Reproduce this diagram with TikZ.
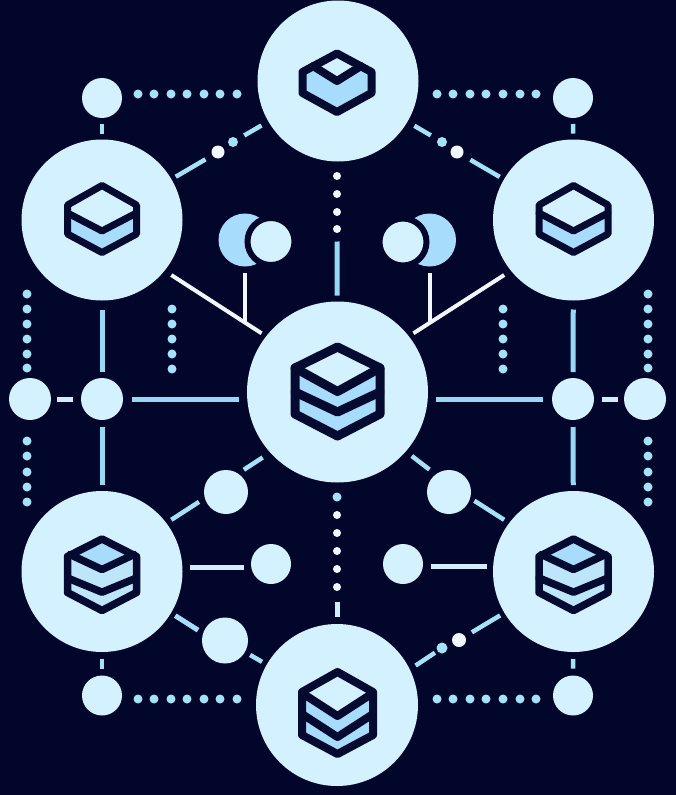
\documentclass[tikz,border=0pt]{standalone}
\usepackage{tikz}
\definecolor{navy}{HTML}{02062A}
\definecolor{ink}{HTML}{050A30}
\definecolor{pale}{HTML}{D3F1FE}
\definecolor{sky}{HTML}{A8DCFC}
\definecolor{skylo}{HTML}{BDE6FB}
\definecolor{beadc}{HTML}{A3E2F8}
\definecolor{wire}{HTML}{96D8F6}
\definecolor{snow}{HTML}{F2F7FE}
\tikzset{x=1pt,y=-1pt,
    hub/.style={circle,fill=pale,inner sep=0pt,outer sep=0pt,minimum size=161pt},
    core/.style={hub,minimum size=181pt},
    sat/.style={circle,fill=pale,inner sep=0pt,outer sep=0pt,minimum size=#1 pt},
    sat/.default=40,
    moonback/.style={circle,fill=sky,inner sep=0pt,outer sep=0pt,minimum size=53pt},
    moonfront/.style={circle,fill=pale,draw=navy,line width=6pt,inner sep=0pt,outer sep=0pt,minimum size=47pt},
    bead/.style={circle,fill=beadc,inner sep=0pt,outer sep=0pt,minimum size=9pt},
    pearl/.style={bead,fill=snow,minimum size=8pt},
    wirelink/.style={draw=wire,line width=5pt},
    glowlink/.style={draw=beadc,line width=4.5pt},
    whitelink/.style={draw=snow,line width=4pt},
    palelink/.style={draw=skylo!60!snow,line width=5pt},
    gap/.style 2 args={shorten <=#1pt,shorten >=#2pt},
    iconline/.style={draw=ink,line width=#1pt,line join=round,line cap=round},
    % cap: small light top on a tall blue side
    pics/boxcap/.style={code={
        \fill[sky] (0,-29.5) -- (35,-11) -- (35,10) -- (0,29) -- (-35,10) -- (-35,-11) -- cycle;
        \fill[pale] (0,-29.5) -- (24,-17) -- (0,-2) -- (-24,-17) -- cycle;
        \path[iconline=8] (0,-29.5) -- (34.5,-11) -- (34.5,10) -- (0,29) -- (-34.5,10) -- (-34.5,-11) -- cycle;
        \path[iconline=8] (-24,-17) -- (0,-2) -- (24,-17);
    }},
    % one layer under a light top
    pics/boxone/.style={code={
        \fill[sky] (0,-33.5) -- (34.5,-14) -- (34.5,15) -- (0,33.5) -- (-34.5,15) -- (-34.5,-14) -- cycle;
        \fill[pale] (0,-33.5) -- (34.5,-14) -- (34.5,-6) -- (0,12) -- (-34.5,-6) -- (-34.5,-14) -- cycle;
        \path[iconline=7] (0,-33.5) -- (34.5,-14) -- (34.5,15) -- (0,33.5) -- (-34.5,15) -- (-34.5,-14) -- cycle;
        \path[iconline=7] (-34.5,-6) -- (0,12) -- (34.5,-6);
    }},
    % three blue layers
    pics/boxtri/.style={code={
        \fill[skylo] (0,-35.5) -- (34.5,-18) -- (34.5,18) -- (0,36) -- (-34.5,18) -- (-34.5,-18) -- cycle;
        \fill[sky] (0,-35.5) -- (32,-20) -- (0,-5) -- (-32,-20) -- cycle;
        \path[iconline=7.5] (0,-35.5) -- (34.5,-18) -- (34.5,18) -- (0,36) -- (-34.5,18) -- (-34.5,-18) -- cycle;
        \path[iconline=7.5] (-32,-20) -- (0,-5) -- (32,-20);
        \path[iconline=7.5] (-34.5,3.5) -- (0,17.7) -- (34.5,3.5);
    }},
    % light top on two blue layers
    pics/boxpile/.style n args={9}{code={
        \fill[sky] (0,-#2) -- (#1,-#3) -- (#1,#4) -- (0,#2) -- (-#1,#4) -- (-#1,-#3) -- cycle;
        \fill[pale] (0,-#2) -- (#1,-#3) -- (0,#6) -- (-#1,-#3) -- cycle;
        \path[iconline=#9] (0,-#2) -- (#1,-#3) -- (#1,#4) -- (0,#2) -- (-#1,#4) -- (-#1,-#3) -- cycle;
        \path[iconline=#9] (-#1,-#5) -- (0,#6) -- (#1,-#5);
        \path[iconline=#9] (-#1,#7) -- (0,#8) -- (#1,#7);
    }}}
\begin{document}
\begin{tikzpicture}
\fill[navy] (0,0) rectangle (676,795);

\node[hub] (top) at (338,81) {};
\node[hub] (ul) at (102,220) {};
\node[hub] (ur) at (573.5,220) {};
\node[core] (mid) at (337.5,392) {};
\node[hub] (ll) at (102,571.5) {};
\node[hub] (lr) at (573.5,571.5) {};
\node[hub,minimum size=162pt] (bot) at (337,705) {};

\node[sat] (stl) at (102,98) {};
\node[sat] (str) at (573,98) {};
\node[sat] (sbl) at (102,695.5) {};
\node[sat] (sbr) at (573,695.5) {};
\node[sat=42] (ofl) at (30,399) {};
\node[sat=42] (hl) at (102,399) {};
\node[sat=42] (hr) at (573,399) {};
\node[sat=42] (ofr) at (645,399) {};
\node[sat=44] (lua) at (226,492) {};
\node[sat=40] (lub) at (271,564) {};
\node[sat=46] (luc) at (225,640.5) {};
\node[sat=44] (rua) at (449,492) {};
\node[sat=40] (rub) at (403,564) {};

\node[moonback] (moonl) at (245,240) {};
\node[moonfront] (facel) at (271,241.5) {};
\node[moonback] (moonr) at (429.5,240) {};
\node[moonfront] (facer) at (403,242) {};

\node[pearl,minimum size=13pt] (da1) at (218,152) {};
\node[bead,minimum size=10pt] (da2) at (233,142) {};
\node[bead,minimum size=10pt] (db1) at (442,142) {};
\node[pearl,minimum size=13pt] (db2) at (457,152) {};
\node[bead,minimum size=11pt] (dc1) at (442,648) {};
\node[pearl,minimum size=14pt] (dc2) at (459,640) {};

% dotted runs
\foreach \x [count=\i] in {138,154,171,187,204,220,237} {
    \node[bead] (dta\i) at (\x,94) {};
    \node[bead] (dba\i) at (\x,699) {};
}
\foreach \x [count=\i] in {437,453,470,486,503,520,536} {
    \node[bead] (dtb\i) at (\x,94) {};
    \node[bead] (dbb\i) at (\x,699) {};
}
\foreach \y [count=\i] in {294,309,324,339,354,368} {
    \node[bead] (vla\i) at (27,\y) {};
    \node[bead] (vra\i) at (648,\y) {};
}
\foreach \y [count=\i] in {441,456,472,487,502} {
    \node[bead] (vlb\i) at (27,\y) {};
    \node[bead] (vrb\i) at (648,\y) {};
}
\foreach \y [count=\i] in {309,324,339,354,369} {
    \node[bead] (inl\i) at (172,\y) {};
    \node[bead] (inr\i) at (503,\y) {};
}
\foreach \y [count=\i] in {176,194,212,229} \node[pearl] (nc\i) at (337,\y) {};
\foreach \y [count=\i] in {515,533,551,569,587} \node[pearl] (nd\i) at (337,\y) {};
\node[bead] (nd0) at (337,497) {};

\coordinate (forkl) at (245,322);
\coordinate (forkr) at (429.5,323);

\path
    (ul) edge [glowlink,gap={5}{8}] (da1)
    (da2) edge [glowlink,gap={8}{8}] (top)
    (top) edge [glowlink,gap={8}{8}] (db1)
    (db2) edge [glowlink,gap={9}{5}] (ur)
    (stl) edge [glowlink,gap={6}{6}] (ul)
    (str) edge [glowlink,gap={6}{6}] (ur)
    (ll) edge [glowlink,gap={7}{7}] (sbl)
    (lr) edge [glowlink,gap={7}{7}] (sbr)
    (ul) edge [wirelink,gap={9}{6}] (hl)
    (ur) edge [wirelink,gap={9}{6}] (hr)
    (hl) edge [wirelink,gap={7}{6}] (ll)
    (hr) edge [wirelink,gap={7}{6}] (lr)
    (ofl) edge [palelink,gap={6}{8}] (hl)
    (hr) edge [palelink,gap={8}{6}] (ofr)
    (hl.east) edge [wirelink,gap={9}{8}] (hl.east -| mid.west)
    (hr.west) edge [wirelink,gap={9}{8}] (hr.west -| mid.east)
    (nc4) edge [wirelink,gap={8.5}{6}] (mid)
    (nd5) edge [palelink,gap={11}{7}] (bot)
    (ul.-39) edge [whitelink,gap={8}{5.5}] (mid.142)
    (ur.219) edge [whitelink,gap={8}{5.5}] (mid.38)
    (moonl) edge [whitelink,gap={6.5}{0}] (forkl)
    (moonr) edge [whitelink,gap={6.5}{0}] (forkr)
    (ll.37) edge [glowlink,gap={6}{7}] (lua.196)
    (lua.57) edge [glowlink,gap={7}{9}] (mid.222)
    (mid.-41) edge [glowlink,gap={7.5}{8}] (rua.127)
    (rua.-16) edge [glowlink,gap={5}{6}] (lr.143)
    (ll.-31) edge [wirelink,draw=sky,gap={5}{6}] (luc.162)
    (luc) edge [glowlink,gap={6}{5.5}] (bot)
    (bot.26) edge [glowlink,gap={7}{3}] (dc1)
    (dc2) edge [glowlink,gap={8}{5}] (lr);
\draw[palelink,gap={7}{7.5}] ([yshift=-3pt]lub.west) -- ([yshift=4.5pt]ll.east);
\draw[palelink,gap={8}{6.5}] ([yshift=-2pt]rub.east) -- ([yshift=5.5pt]lr.west);

\pic at (337,83) {boxcap};
\pic at (102,219) {boxone};
\pic at (573.5,219) {boxone};
\pic at (102,574.5) {boxtri};
\pic at (573.5,574.5) {boxtri};
\pic at (337.5,391.5) {boxpile={42.5}{44.5}{23.5}{22.5}{23.5}{0}{0.5}{20.5}{9}};
\pic at (337.5,713) {boxpile={35.5}{41}{21}{22}{20}{3}{1}{24}{8}};
\end{tikzpicture}
\end{document}
